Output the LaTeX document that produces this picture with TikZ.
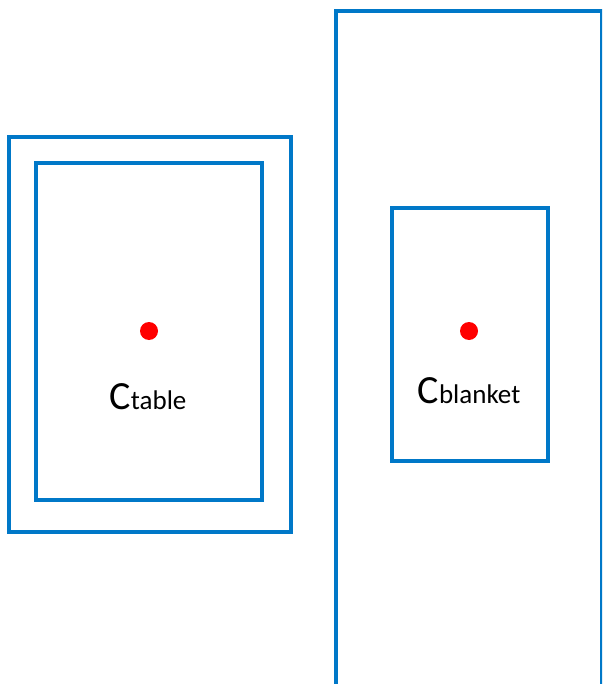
\documentclass[tikz,border=0pt]{standalone}
\usepackage{fontspec}
\setmainfont{Carlito}
\definecolor{frameblue}{RGB}{0,120,200}
\definecolor{dotred}{RGB}{255,0,0}
\begin{document}
\begin{tikzpicture}[x=1pt,y=-1pt,
  frame/.style={draw=frameblue,line width=4pt,rectangle,inner sep=0pt,outer sep=0pt,anchor=north west},
  centre/.style={circle,fill=dotred,inner sep=0pt,outer sep=0pt,minimum size=18pt},
  lbl/.style={inner sep=0pt,anchor=base,text=black}]
\useasboundingbox (0,0) rectangle (602,684);
\clip (0,0) rectangle (602,684);
% table: outer and inner frames
\node[frame,minimum width=282pt,minimum height=395pt] (tableouter) at (9,137) {};
\node[frame,minimum width=226pt,minimum height=337pt] (tableinner) at (36,163) {};
\node[centre] (tabledot) at (149,331) {};
\node[lbl] (tablelabel) at (148,409) {\fontsize{40}{40}\selectfont C\fontsize{27}{27}\selectfont table};
% blanket: large frame running off the page, and the inner frame
\node[frame,minimum width=266pt,minimum height=720pt] (blanketouter) at (336,11) {};
\node[frame,minimum width=156pt,minimum height=253pt] (blanketinner) at (392,208) {};
\node[centre] (blanketdot) at (469,331) {};
\node[lbl] (blanketlabel) at (469,403) {\fontsize{40}{40}\selectfont C\fontsize{27}{27}\selectfont blanket};
\end{tikzpicture}
\end{document}
